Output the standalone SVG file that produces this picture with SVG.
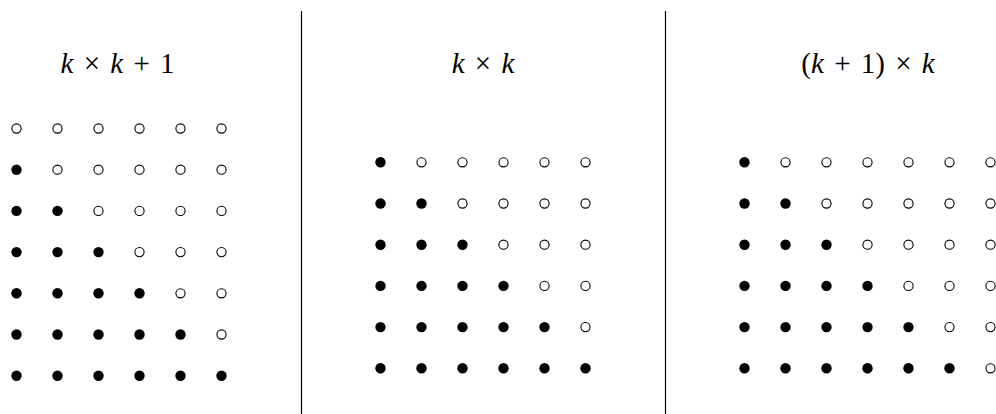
<svg xmlns="http://www.w3.org/2000/svg" xmlns:xlink="http://www.w3.org/1999/xlink" width="996" height="414" viewBox="0 0 996 414">
<style>
.t{font-family:"Liberation Serif","DejaVu Serif",serif;font-size:29px;fill:#000;text-anchor:middle;word-spacing:3px}
.i{font-style:italic}
.sep{stroke:#000;stroke-width:1.2}
</style>
<defs>
<circle id="f" r="5.2" fill="#000"/>
<circle id="o" r="4.6" fill="#fff" stroke="#000" stroke-width="1.1"/>
</defs>
<rect width="996" height="414" fill="#fff"/>
<g id="separators">
<line class="sep" x1="301.5" y1="11" x2="301.5" y2="414"/>
<line class="sep" x1="665.5" y1="11" x2="665.5" y2="414"/>
</g>
<g id="titles">
<text class="t" x="117.5" y="73"><tspan class="i">k</tspan> × <tspan class="i">k</tspan> + 1</text>
<text class="t" x="483" y="73"><tspan class="i">k</tspan> × <tspan class="i">k</tspan></text>
<text class="t" x="868" y="73">(<tspan class="i">k</tspan> + 1) × <tspan class="i">k</tspan></text>
</g>
<g id="grid-left">
<g transform="translate(0,128.5)"><use href="#o" x="16.5"/><use href="#o" x="57.5"/><use href="#o" x="98.5"/><use href="#o" x="139.5"/><use href="#o" x="180.5"/><use href="#o" x="221.5"/></g>
<g transform="translate(0,169.7)"><use href="#f" x="16.5"/><use href="#o" x="57.5"/><use href="#o" x="98.5"/><use href="#o" x="139.5"/><use href="#o" x="180.5"/><use href="#o" x="221.5"/></g>
<g transform="translate(0,210.9)"><use href="#f" x="16.5"/><use href="#f" x="57.5"/><use href="#o" x="98.5"/><use href="#o" x="139.5"/><use href="#o" x="180.5"/><use href="#o" x="221.5"/></g>
<g transform="translate(0,252.1)"><use href="#f" x="16.5"/><use href="#f" x="57.5"/><use href="#f" x="98.5"/><use href="#o" x="139.5"/><use href="#o" x="180.5"/><use href="#o" x="221.5"/></g>
<g transform="translate(0,293.3)"><use href="#f" x="16.5"/><use href="#f" x="57.5"/><use href="#f" x="98.5"/><use href="#f" x="139.5"/><use href="#o" x="180.5"/><use href="#o" x="221.5"/></g>
<g transform="translate(0,334.5)"><use href="#f" x="16.5"/><use href="#f" x="57.5"/><use href="#f" x="98.5"/><use href="#f" x="139.5"/><use href="#f" x="180.5"/><use href="#o" x="221.5"/></g>
<g transform="translate(0,375.7)"><use href="#f" x="16.5"/><use href="#f" x="57.5"/><use href="#f" x="98.5"/><use href="#f" x="139.5"/><use href="#f" x="180.5"/><use href="#f" x="221.5"/></g>
</g>
<g id="grid-middle">
<g transform="translate(0,162.3)"><use href="#f" x="380.5"/><use href="#o" x="421.5"/><use href="#o" x="462.5"/><use href="#o" x="503.5"/><use href="#o" x="544.5"/><use href="#o" x="585.5"/></g>
<g transform="translate(0,203.5)"><use href="#f" x="380.5"/><use href="#f" x="421.5"/><use href="#o" x="462.5"/><use href="#o" x="503.5"/><use href="#o" x="544.5"/><use href="#o" x="585.5"/></g>
<g transform="translate(0,244.7)"><use href="#f" x="380.5"/><use href="#f" x="421.5"/><use href="#f" x="462.5"/><use href="#o" x="503.5"/><use href="#o" x="544.5"/><use href="#o" x="585.5"/></g>
<g transform="translate(0,285.9)"><use href="#f" x="380.5"/><use href="#f" x="421.5"/><use href="#f" x="462.5"/><use href="#f" x="503.5"/><use href="#o" x="544.5"/><use href="#o" x="585.5"/></g>
<g transform="translate(0,327.1)"><use href="#f" x="380.5"/><use href="#f" x="421.5"/><use href="#f" x="462.5"/><use href="#f" x="503.5"/><use href="#f" x="544.5"/><use href="#o" x="585.5"/></g>
<g transform="translate(0,368.3)"><use href="#f" x="380.5"/><use href="#f" x="421.5"/><use href="#f" x="462.5"/><use href="#f" x="503.5"/><use href="#f" x="544.5"/><use href="#f" x="585.5"/></g>
</g>
<g id="grid-right">
<g transform="translate(0,162.3)"><use href="#f" x="744.5"/><use href="#o" x="785.5"/><use href="#o" x="826.5"/><use href="#o" x="867.5"/><use href="#o" x="908.5"/><use href="#o" x="949.5"/><use href="#o" x="990.5"/></g>
<g transform="translate(0,203.5)"><use href="#f" x="744.5"/><use href="#f" x="785.5"/><use href="#o" x="826.5"/><use href="#o" x="867.5"/><use href="#o" x="908.5"/><use href="#o" x="949.5"/><use href="#o" x="990.5"/></g>
<g transform="translate(0,244.7)"><use href="#f" x="744.5"/><use href="#f" x="785.5"/><use href="#f" x="826.5"/><use href="#o" x="867.5"/><use href="#o" x="908.5"/><use href="#o" x="949.5"/><use href="#o" x="990.5"/></g>
<g transform="translate(0,285.9)"><use href="#f" x="744.5"/><use href="#f" x="785.5"/><use href="#f" x="826.5"/><use href="#f" x="867.5"/><use href="#o" x="908.5"/><use href="#o" x="949.5"/><use href="#o" x="990.5"/></g>
<g transform="translate(0,327.1)"><use href="#f" x="744.5"/><use href="#f" x="785.5"/><use href="#f" x="826.5"/><use href="#f" x="867.5"/><use href="#f" x="908.5"/><use href="#o" x="949.5"/><use href="#o" x="990.5"/></g>
<g transform="translate(0,368.3)"><use href="#f" x="744.5"/><use href="#f" x="785.5"/><use href="#f" x="826.5"/><use href="#f" x="867.5"/><use href="#f" x="908.5"/><use href="#f" x="949.5"/><use href="#o" x="990.5"/></g>
</g>
</svg>
